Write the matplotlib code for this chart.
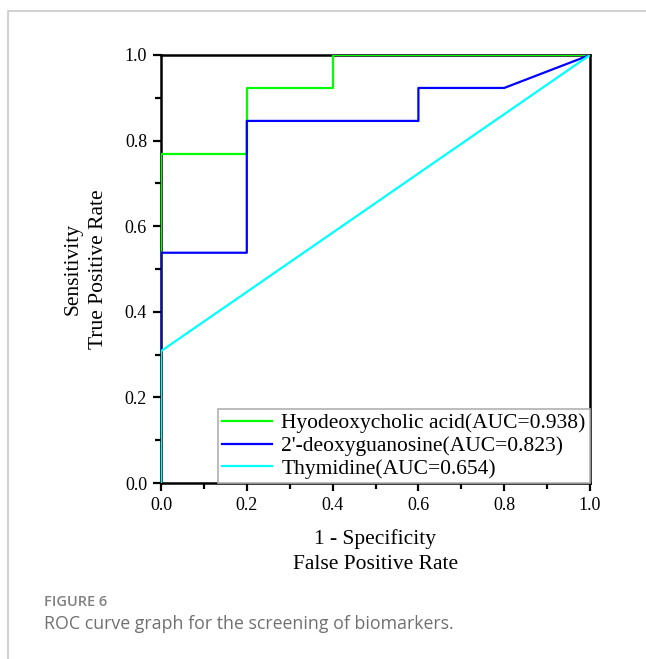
import numpy as np
import matplotlib
matplotlib.use('Agg')
from matplotlib import pyplot as plt
from matplotlib.patches import Rectangle
from matplotlib.ticker import MultipleLocator, FormatStrFormatter

# ROC curve points (false positive rate, true positive rate)
hyo_fpr = [0.0, 0.0, 0.2, 0.2, 0.4, 0.4, 1.0]
hyo_tpr = [0.0, 0.769, 0.769, 0.923, 0.923, 1.0, 1.0]

deg_fpr = [0.0, 0.0, 0.2, 0.2, 0.6, 0.6, 0.8, 1.0]
deg_tpr = [0.0, 0.538, 0.538, 0.846, 0.846, 0.923, 0.923, 1.0]

thy_fpr = [0.0, 0.0, 1.0]
thy_tpr = [0.0, 0.308, 1.0]

labels = ['Hyodeoxycholic acid(AUC=0.938)',
          "2'-deoxyguanosine(AUC=0.823)",
          'Thymidine(AUC=0.654)']
colors = ['#00ff00', '#0000ff', '#00ffff']

serif = ['Liberation Serif', 'DejaVu Serif']

fig = plt.figure(figsize=(6.46, 6.59), dpi=100)

# outer light frame of the figure panel
fig.patches.append(Rectangle((8 / 646, -0.1), 1.2, 1 - 11 / 659 + 0.1,
                             transform=fig.transFigure, fill=False,
                             edgecolor='#c8c8c8', linewidth=1.2))

ax = fig.add_axes([161 / 646, 1 - 483 / 659, 429 / 646, 428 / 659])

ax.plot(hyo_fpr, hyo_tpr, color=colors[0], lw=1.6, label=labels[0], zorder=3)
ax.plot(deg_fpr, deg_tpr, color=colors[1], lw=1.6, label=labels[1], zorder=3)
ax.plot(thy_fpr, thy_tpr, color=colors[2], lw=1.6, label=labels[2], zorder=3)

ax.set_xlim(0, 1)
ax.set_ylim(0, 1)
ax.xaxis.set_major_locator(MultipleLocator(0.2))
ax.yaxis.set_major_locator(MultipleLocator(0.2))
ax.xaxis.set_minor_locator(MultipleLocator(0.1))
ax.yaxis.set_minor_locator(MultipleLocator(0.1))
ax.tick_params(which='major', direction='out', length=6, width=1.6,
               labelsize=13, pad=4)
ax.tick_params(which='minor', direction='out', length=4, width=1.6)
ax.xaxis.set_major_formatter(FormatStrFormatter('%.1f'))
ax.yaxis.set_major_formatter(FormatStrFormatter('%.1f'))
for lab in ax.get_xticklabels() + ax.get_yticklabels():
    lab.set_family(serif)
for s in ax.spines.values():
    s.set_linewidth(1.8)
    s.set_zorder(2)

ax.set_xlabel('1 - Specificity\nFalse Positive Rate', family=serif,
              fontsize=15.5, labelpad=11, linespacing=1.45)
ax.set_ylabel('Sensitivity\nTrue Positive Rate', family=serif,
              fontsize=15.5, labelpad=12, linespacing=1.45)

leg = ax.legend(loc='lower right', prop={'family': serif, 'size': 15.5},
                fancybox=False, framealpha=1, edgecolor='#b0b0b0',
                borderaxespad=0, handlelength=2.3, handletextpad=0.45,
                borderpad=0.2, labelspacing=0.12)
leg.get_frame().set_linewidth(1.2)

# caption
fig.text(44 / 646, 1 - 606 / 659, 'FIGURE 6', family='Open Sans',
         fontsize=10.5, fontweight='semibold', color='#808080', va='baseline')
fig.text(44 / 646, 1 - 629 / 659,
         'ROC curve graph for the screening of biomarkers.',
         family='Open Sans', fontsize=12.8, color='#707070', va='baseline')

fig.savefig('out.png', dpi=100)
